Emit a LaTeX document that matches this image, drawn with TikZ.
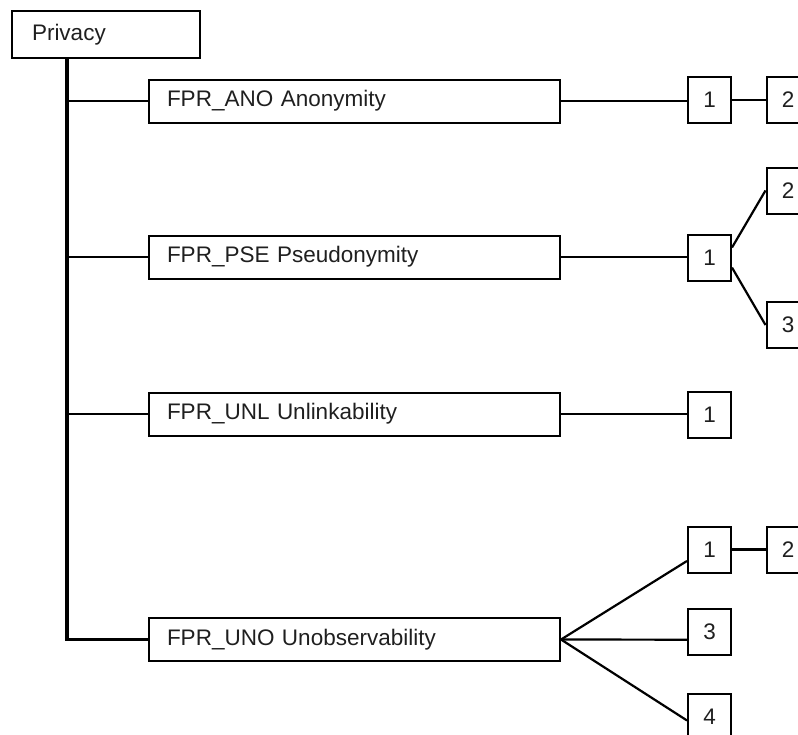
\documentclass[tikz,border=0pt]{standalone}
\usepackage{fontspec}
\setmainfont{Liberation Sans}
\usepackage{xcolor}
\usetikzlibrary{positioning}

\begin{document}
\begin{tikzpicture}[x=1pt, y=-1pt, font=\fontsize{22.5}{26}\selectfont, text=black!88,
  fambox/.style={draw, line width=2pt, minimum height=43pt, text width=375pt, inner xsep=18pt, align=left},
  rootbox/.style={draw, line width=2pt, minimum height=47pt, text width=148pt, inner xsep=20pt, align=left},
  numbox/.style={draw, line width=2pt, minimum width=43pt, minimum height=46pt, inner sep=0pt},
  thinl/.style={line width=1.2pt}, thickl/.style={line width=2.2pt}]
\clip (0,0) rectangle (798,734);
\node[rootbox] (privacy) at (106,34.5) {Privacy};
\node[fambox] (ano) at (354.5,101) {FPR\_ANO Anonymity};
\node[fambox] (pse) at (354.5,257) {FPR\_PSE Pseudonymity};
\node[fambox] (unl) at (354.5,414) {FPR\_UNL Unlinkability};
\node[fambox] (uno) at (354.5,639.5) {FPR\_UNO Unobservability};
% components
\node[numbox] (a1) at (709.5,100) {1};
\node[numbox] (a2) at (788,100) {2};
\node[numbox] (p1) at (709.5,258) {1};
\node[numbox] (p2) at (788,190.5) {2};
\node[numbox] (p3) at (788,325) {3};
\node[numbox] (l1) at (709.5,414.5) {1};
\node[numbox] (u1) at (709.5,549.5) {1};
\node[numbox] (u2) at (788,549.5) {2};
\node[numbox] (u3) at (709.5,631.5) {3};
\node[numbox] (u4) at (709.5,716.5) {4};
% trunk
\coordinate (trunk) at ([xshift=-39pt]privacy.south);
\draw[line width=3.5pt] (trunk) |- (uno.west);
\draw[thinl] (trunk |- ano) -- (ano.west);
\draw[thinl] (trunk |- pse) -- (pse.west);
\draw[thinl] (trunk |- unl) -- (unl.west);
% leveling
\draw[thinl] (ano.east) -- (ano.east -| a1.west);
\draw[thinl] (a1.east) -- (a2.west);
\draw[thinl] (pse.east) -- (pse.east -| p1.west);
\draw[thickl] (p1.25) -- (p2.west);
\draw[thickl] (p1.-23) -- (p3.west);
\draw[thinl] (unl.east) -- (unl.east -| l1.west);
\draw[thickl] (uno.east) -- (u1.207);
\draw[thickl] (uno.east) -- (u3.200);
\draw[thickl] (uno.east) -- (u4.190);
\draw[thickl] (u1.east) -- (u2.west);
\end{tikzpicture}
\end{document}
